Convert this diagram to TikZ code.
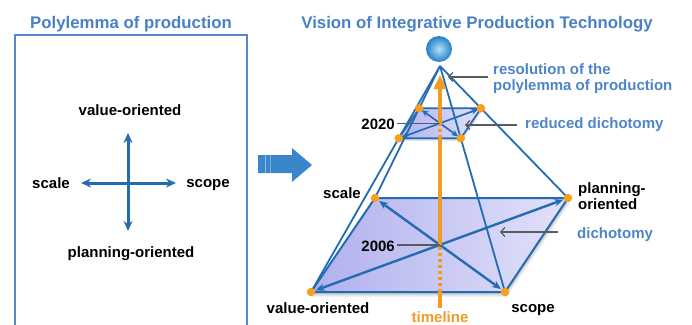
\documentclass[tikz,border=0pt]{standalone}
\usepackage{fontspec}
\setmainfont{Liberation Sans}
\usetikzlibrary{arrows.meta,calc}
\definecolor{titleblue}{RGB}{74,128,196}
\definecolor{labelblue}{RGB}{78,132,200}
\definecolor{lineblue}{RGB}{36,108,178}
\definecolor{boxblue}{RGB}{84,136,200}
\definecolor{arrowblue}{RGB}{58,134,200}
\definecolor{dotorange}{RGB}{245,160,32}
\definecolor{lineorange}{RGB}{240,156,36}
\definecolor{calloutgray}{RGB}{90,90,95}
\definecolor{planeL}{RGB}{176,176,238}
\definecolor{planeR}{RGB}{226,226,250}
\definecolor{ballin}{RGB}{175,225,248}
\definecolor{ballout}{RGB}{38,128,200}
\begin{document}
\begin{tikzpicture}[x=1pt,y=-1pt,
  lbl/.style={font=\fontsize{15}{14}\selectfont\bfseries, inner sep=0pt, text=black},
  bluelbl/.style={lbl, text=labelblue},
  ttl/.style={font=\fontsize{16.8}{18}\selectfont\bfseries, inner sep=0pt, text=titleblue},
  crossarr/.style={lineblue, line width=3pt, {Stealth[length=10pt,width=9pt]}-{Stealth[length=10pt,width=9pt]}},
  pedge/.style={draw=lineblue, line width=1.8pt},
  rim/.style={draw=lineblue, line width=2pt, line join=round},
  diag/.style={lineblue, line width=2.4pt, shorten <=5pt, shorten >=5pt,
    {Stealth[length=9pt,width=7.5pt]}-{Stealth[length=9pt,width=7.5pt]}},
  sdiag/.style={lineblue, line width=1.7pt, shorten <=3pt, shorten >=3pt,
    {Stealth[length=7pt,width=6pt]}-{Stealth[length=7pt,width=6pt]}},
  callout/.style={draw=calloutgray, line width=1.2pt},
  calloutarr/.style={callout, -{Straight Barb[length=4pt,width=9pt]}},
  dot/.style={circle, fill=dotorange, inner sep=0pt, minimum size=8.5pt},
  tline/.style={lineorange, line width=4.5pt},
  tdots/.style={lineorange, line width=4.5pt, dash pattern=on 3pt off 3pt}]
\useasboundingbox (0,0) rectangle (692,324);

% ---------- left panel: the polylemma ----------
\node[ttl] (ltitle) at (131,28) [anchor=base] {Polylemma of production};
\draw[boxblue, line width=1.3pt] (15,340) -- (15,35) -- (247,35) -- (247,340);

\coordinate (xt) at (128,133);
\coordinate (xb) at (128,231);
\coordinate (xl) at (81,183);
\coordinate (xr) at (176,183);
\draw[crossarr] (xt) -- (xb);
\draw[crossarr] (xl) -- (xr);
\node[lbl, anchor=base] (lval) at (130,115) {value-oriented};
\node[lbl, anchor=base] (lscale) at (51,188) {scale};
\node[lbl, anchor=base] (lscope) at (208,187) {scope};
\node[lbl, anchor=base] (lplan) at (131,257) {planning-oriented};

% ---------- transition arrow ----------
\fill[arrowblue] (258,155) -- (292,155) -- (292,148) -- (312,165) -- (292,182)
  -- (292,173) -- (258,173) -- cycle;
\draw[white, opacity=0.45, line width=0.8pt] (265.5,155) -- (265.5,173);
\draw[white, opacity=0.3, line width=0.8pt] (270,155) -- (270,173);

% ---------- right panel: the pyramid ----------
\node[ttl] (rtitle) at (477,28) [anchor=base] {Vision of Integrative Production Technology};

\coordinate (A) at (440,66);
\coordinate (S) at (375,198);
\coordinate (P) at (568,198);
\coordinate (C) at (505,292);
\coordinate (V) at (311,292);
\coordinate (M) at (440,245);
\def\lev{0.32}
\coordinate (s) at ($(A)!\lev!(S)$);
\coordinate (p) at ($(A)!\lev!(P)$);
\coordinate (c) at ($(A)!\lev!(C)$);
\coordinate (v) at ($(A)!\lev!(V)$);
\coordinate (m) at ($(A)!\lev!(M)$);

% soft shadows under the two planes
\foreach \o/\op in {5/0.06,3.5/0.08,2/0.10}{
  \fill[black, opacity=\op] ([shift={(\o*0.4,\o)}]S) -- ([shift={(\o*0.4,\o)}]P)
    -- ([shift={(\o*0.4,\o)}]C) -- ([shift={(\o*0.4,\o)}]V) -- cycle;
  \fill[black, opacity=\op] ([shift={(\o*0.3,\o*0.6)}]s) -- ([shift={(\o*0.3,\o*0.6)}]p)
    -- ([shift={(\o*0.3,\o*0.6)}]c) -- ([shift={(\o*0.3,\o*0.6)}]v) -- cycle;
}
\shade[left color=planeL, right color=planeR] (S) -- (P) -- (C) -- (V) -- cycle;
\shade[left color=planeL, right color=planeR] (s) -- (p) -- (c) -- (v) -- cycle;

% pyramid edges from the apex
\draw[pedge] (A) -- (S);
\draw[pedge] (A) -- (P);
\draw[pedge] (A) -- (C);
\draw[pedge] (A) -- (V);

% plane outlines and tension diagonals
\draw[rim] (S) -- (P) -- (C) -- (V) -- cycle;
\draw[rim, line width=1.7pt] (s) -- (p) -- (c) -- (v) -- cycle;
\draw[diag] (S) -- (C);
\draw[diag] (V) -- (P);
\draw[sdiag] (s) -- (c);
\draw[sdiag] (v) -- (p);

% timeline
\node[lbl, anchor=base, text=lineorange] (tl) at (440,322) {timeline};
\coordinate (tb) at (440,308);
\coordinate (te) at (440,292);
\coordinate (ste) at (440,138);
\coordinate (tip) at (440,75);
\draw[tline] (tb) -- (te);
\draw[tdots] (te) -- (M);
\draw[tline] (M) -- (ste);
\draw[tdots] (ste) -- (m);
\draw[tline, -{Triangle[length=14pt,width=12pt]}] (m) -- (tip);

% corner markers
\foreach \k in {S,P,C,V,s,p,c,v}{ \node[dot] (d\k) at (\k) {}; }

% apex sphere
\node[circle, minimum size=26pt, inner sep=0pt, shading=radial,
  inner color=ballin, outer color=ballout] (ball) at (439,49) {};

% labels of the base plane
\node[lbl, anchor=base] (pscale) at (342,198) {scale};
\node[lbl, anchor=base west, align=left] (pplan) at (578,209) {planning-\\oriented};
\node[lbl, anchor=base] (pval) at (318,313) {value-oriented};
\node[lbl, anchor=base] (pscope) at (533,312) {scope};

% years
\node[lbl, anchor=base east] (y06) at (395,251) {2006};
\node[lbl, anchor=base east] (y20) at (395,129) {2020};
\draw[callout] ([xshift=2pt]y06.east |- M) -- (M);
\draw[callout] ([xshift=2pt]y20.east |- m) -- (m);

% callouts
\node[bluelbl, anchor=base west] (dich) at (577,238) {dichotomy};
\coordinate (dichtip) at (500,232);
\draw[calloutarr] ([xshift=-19pt]dich.west |- dichtip) -- (dichtip);

\node[bluelbl, anchor=base west] (rdich) at (525,128) {reduced dichotomy};
\coordinate (rdichtip) at (465,125);
\draw[calloutarr] ([xshift=-8pt]rdich.west |- rdichtip) -- (rdichtip);

\node[bluelbl, anchor=base west, align=left, font=\fontsize{15}{16}\selectfont\bfseries]
  (res) at (493,90) {resolution of the\\polylemma of production};
\coordinate (restip) at (448,77);
\draw[calloutarr] ([xshift=-5pt]res.west |- restip) -- (restip);
\end{tikzpicture}
\end{document}
